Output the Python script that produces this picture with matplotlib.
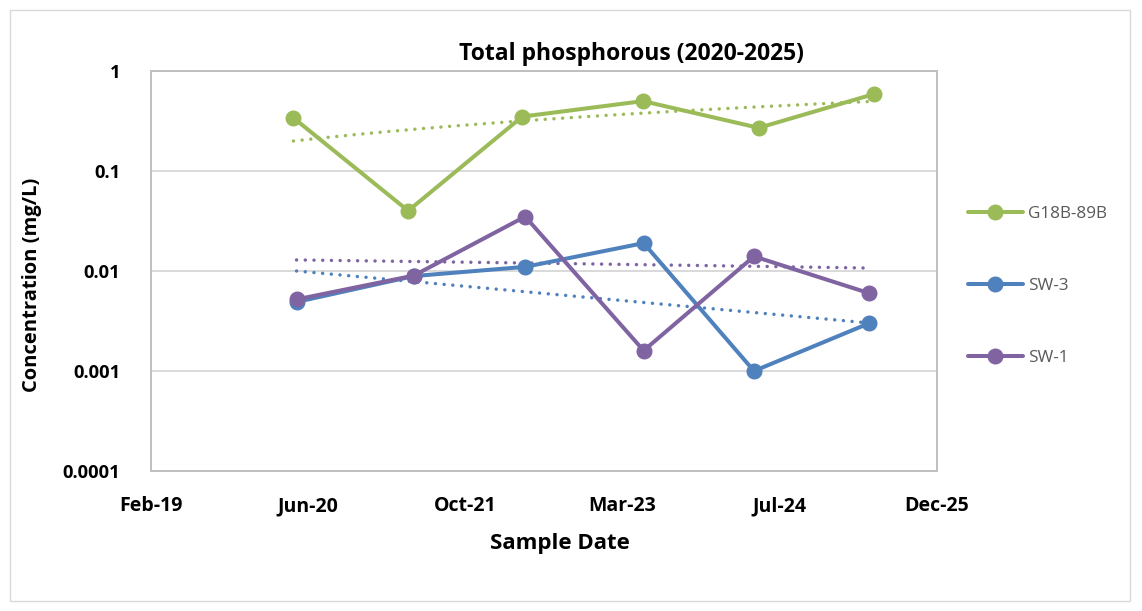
import matplotlib
matplotlib.use("Agg")
import matplotlib.pyplot as plt
import matplotlib.dates as mdates
import numpy as np
import datetime as dt

# ---- data ----
series_names = ["G18B-89B", "SW-3", "SW-1"]
g18_dates = ["2020-04-29", "2021-04-29", "2022-04-27", "2023-05-16", "2024-05-18", "2025-05-21"]
g18_values = [0.34, 0.040, 0.35, 0.50, 0.27, 0.59]
sw3_dates = ["2020-05-09", "2021-05-17", "2022-05-06", "2023-05-18", "2024-05-03", "2025-05-04"]
sw3_values = [0.0049, 0.0089, 0.011, 0.019, 0.0010, 0.0030]
sw1_dates = ["2020-05-09", "2021-05-17", "2022-05-06", "2023-05-18", "2024-05-03", "2025-05-04"]
sw1_values = [0.0052, 0.0090, 0.035, 0.0016, 0.014, 0.0060]
trend_types = ["linear", "exponential", "linear"]
colors = ["#9BBB59", "#4F81BD", "#8064A2"]
y_ticks = [0.0001, 0.001, 0.01, 0.1, 1]
y_tick_labels = ["0.0001", "0.001", "0.01", "0.1", "1"]
x_start = "2019-02-01"
x_step_days = 500
x_n_steps = 5

FONT = ["Open Sans", "DejaVu Sans"]
plt.rcParams['font.family'] = FONT

W, H = 1142, 611
fig = plt.figure(figsize=(W / 100, H / 100), dpi=100)
fig.patch.set_facecolor("white")
# chart border
fig.add_artist(plt.Rectangle((10 / W, 1 - 601 / H), 1120 / W, 591 / H, transform=fig.transFigure,
                             fill=False, edgecolor="#D9D9D9", linewidth=1.0))

ax = fig.add_axes([151 / W, 1 - 471 / H, (937 - 151) / W, 400 / H])

def to_dates(lst):
    return [dt.datetime.strptime(s, "%Y-%m-%d") for s in lst]

all_dates = [to_dates(g18_dates), to_dates(sw3_dates), to_dates(sw1_dates)]
all_vals = [g18_values, sw3_values, sw1_values]

handles = []
for name, d, v, c, tt in zip(series_names, all_dates, all_vals, colors, trend_types):
    xn = mdates.date2num(d)
    vv = np.array(v)
    xs = np.linspace(xn.min(), xn.max(), 200)
    if tt == "linear":
        p = np.polyfit(xn, vv, 1)
        ys = np.polyval(p, xs)
    else:
        p = np.polyfit(xn, np.log(vv), 1)
        ys = np.exp(np.polyval(p, xs))
    ax.plot(mdates.num2date(xs), ys, color=c, linestyle=(0, (0.01, 2.5)), linewidth=2.5,
            dash_capstyle="round", zorder=3)
    h, = ax.plot(d, v, color=c, linewidth=2.9, marker="o", markersize=10.5,
                 solid_capstyle="round", zorder=4, label=name)
    handles.append(h)

ax.set_yscale("log")
ax.set_ylim(0.0001, 1)
ax.set_yticks(y_ticks)
ax.set_yticklabels(y_tick_labels)
ax.yaxis.set_minor_locator(matplotlib.ticker.NullLocator())

x0 = dt.datetime.strptime(x_start, "%Y-%m-%d")
xticks = [x0 + dt.timedelta(days=x_step_days * i) for i in range(x_n_steps + 1)]
ax.set_xlim(xticks[0], xticks[-1])
ax.set_xticks(xticks)
ax.set_xticklabels([t.strftime("%b-%y") for t in xticks])

ax.grid(axis="y", color="#D9D9D9", linewidth=1.4)
ax.set_axisbelow(True)
for s in ax.spines.values():
    s.set_color("#BFBFBF")
    s.set_linewidth(1.4)
ax.tick_params(axis="both", length=0, labelsize=13.2, colors="black")
ax.tick_params(axis="x", pad=18)
ax.tick_params(axis="y", pad=22)
for lab in ax.get_xticklabels():
    lab.set_fontweight("bold")
    lab.set_fontsize(14)
for lab in ax.get_yticklabels():
    lab.set_fontweight("bold")

fig.text(631 / W, 1 - 54 / H, "Total phosphorous (2020-2025)", ha="center", va="center",
         fontsize=16.5, fontweight="bold")
fig.text(32 / W, 1 - 285 / H, "Concentration (mg/L)", ha="center", va="center",
         rotation=90, fontsize=14.5, fontweight="bold")
fig.text(560 / W, 1 - 543 / H, "Sample Date", ha="center", va="center",
         fontsize=16, fontweight="bold")

leg = fig.legend(handles=handles, loc="center left", bbox_to_anchor=(968 / W, 1 - 286 / H),
                 frameon=False, fontsize=12.3, labelspacing=3.25, handlelength=3.2,
                 handletextpad=0.3, borderpad=0, borderaxespad=0, labelcolor="#595959")

fig.savefig("out.png", dpi=100)
